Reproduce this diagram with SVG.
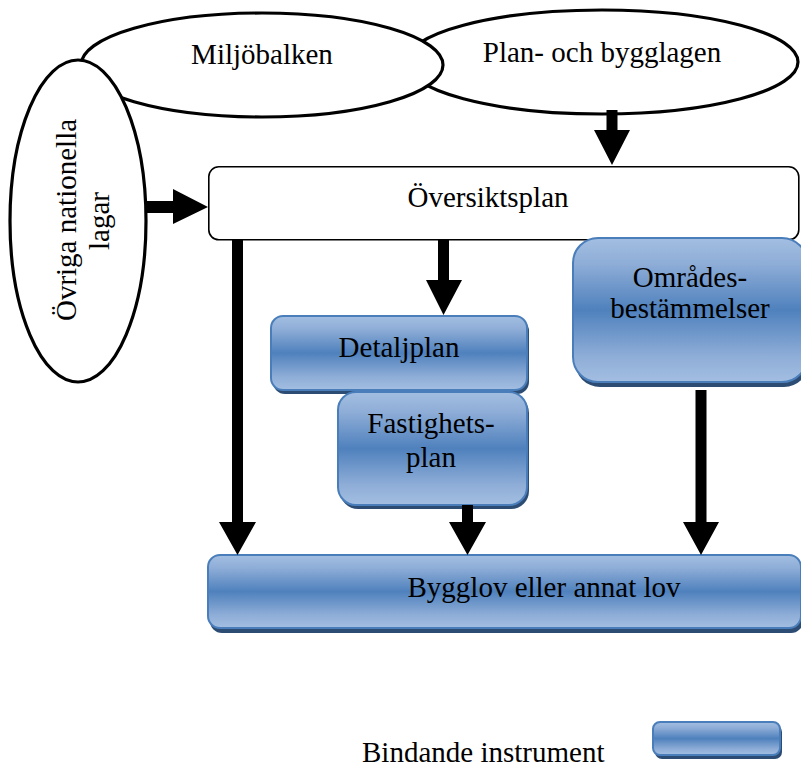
<svg xmlns="http://www.w3.org/2000/svg" width="801" height="767" viewBox="0 0 801 767">
  <defs>
    <linearGradient id="blueFill" x1="0" y1="0" x2="0" y2="1">
      <stop offset="0" stop-color="#a3bee1"/>
      <stop offset="0.18" stop-color="#8eadd7"/>
      <stop offset="0.5" stop-color="#4f81bd"/>
      <stop offset="0.82" stop-color="#8eadd7"/>
      <stop offset="1" stop-color="#a3bee1"/>
    </linearGradient>
  </defs>
  <style>
    text { font-family: "Liberation Serif", "Times New Roman", serif; font-size: 29px; fill: #000; }
    .mid { text-anchor: middle; }
    .law { fill: #fff; stroke: #000; stroke-width: 3.2; }
    .plan { fill: #fff; stroke: #000; stroke-width: 1.6; }
    .bind { fill: url(#blueFill); stroke: #4a7ebb; stroke-width: 2; }
    .shadow { fill: #2c4c74; }
    .arrow { fill: #000; }
  </style>

  <!-- laws -->
  <g id="pbl">
    <ellipse class="law" cx="602" cy="62" rx="196" ry="52"/>
    <text class="mid" x="602" y="62">Plan- och bygglagen</text>
  </g>
  <g id="miljobalken">
    <ellipse class="law" cx="262" cy="65" rx="181" ry="52"/>
    <text class="mid" x="262" y="64">Miljöbalken</text>
  </g>
  <g id="ovriga">
    <ellipse class="law" cx="78" cy="221" rx="68" ry="161"/>
    <text class="mid" transform="translate(76 220) rotate(-90)">Övriga nationella</text>
    <text class="mid" transform="translate(109 221) rotate(-90)">lagar</text>
  </g>

  <!-- comprehensive plan -->
  <g id="oversiktsplan">
    <rect class="plan" x="208.8" y="166.8" width="590" height="73" rx="10"/>
    <text class="mid" x="488" y="207">Översiktsplan</text>
  </g>

  <!-- binding instruments -->
  <g id="omradesbestammelser">
    <rect class="shadow" x="575" y="241" width="234" height="146" rx="25"/>
    <rect class="bind" x="573" y="238" width="234" height="144" rx="25"/>
    <text class="mid" x="690" y="287">Områdes-</text>
    <text class="mid" x="690" y="318">bestämmelser</text>
  </g>
  <g id="detaljplan">
    <rect class="shadow" x="273" y="319" width="256" height="75" rx="12"/>
    <rect class="bind" x="271" y="316" width="256" height="74" rx="12"/>
    <text class="mid" x="399" y="357">Detaljplan</text>
  </g>
  <g id="fastighetsplan">
    <rect class="shadow" x="340" y="395" width="189" height="114" rx="18"/>
    <rect class="bind" x="338" y="392" width="189" height="113" rx="18"/>
    <text class="mid" x="431" y="433">Fastighets-</text>
    <text class="mid" x="431" y="467">plan</text>
  </g>
  <g id="bygglov">
    <rect class="shadow" x="210" y="558" width="593" height="75" rx="12"/>
    <rect class="bind" x="208" y="555" width="593" height="73" rx="12"/>
    <text class="mid" x="544" y="597">Bygglov eller annat lov</text>
  </g>

  <!-- legend -->
  <g id="legend">
    <rect class="shadow" x="655" y="725" width="127" height="34" rx="7"/>
    <rect class="bind" x="653" y="722" width="127" height="33" rx="7"/>
    <text x="362" y="762">Bindande instrument</text>
  </g>

  <!-- connectors -->
  <g id="connectors">
    <polygon class="arrow" points="606.5,110 617.5,110 617.5,130 630,130 612,165 594,130 606.5,130"/>
    <polygon class="arrow" points="147,201 173,201 173,189 208,207 173,224 173,213 147,213"/>
    <polygon class="arrow" points="438,240 449,240 449,280 462,280 443.5,315 426,280 438,280"/>
    <polygon class="arrow" points="232,240 243,240 243,522 256,522 237.5,555 219,522 232,522"/>
    <polygon class="arrow" points="462,505 473,505 473,522 486,522 467.5,555 449,522 462,522"/>
    <polygon class="arrow" points="695.5,390 706.5,390 706.5,522 719,522 701,555 683,522 695.5,522"/>
  </g>
</svg>
